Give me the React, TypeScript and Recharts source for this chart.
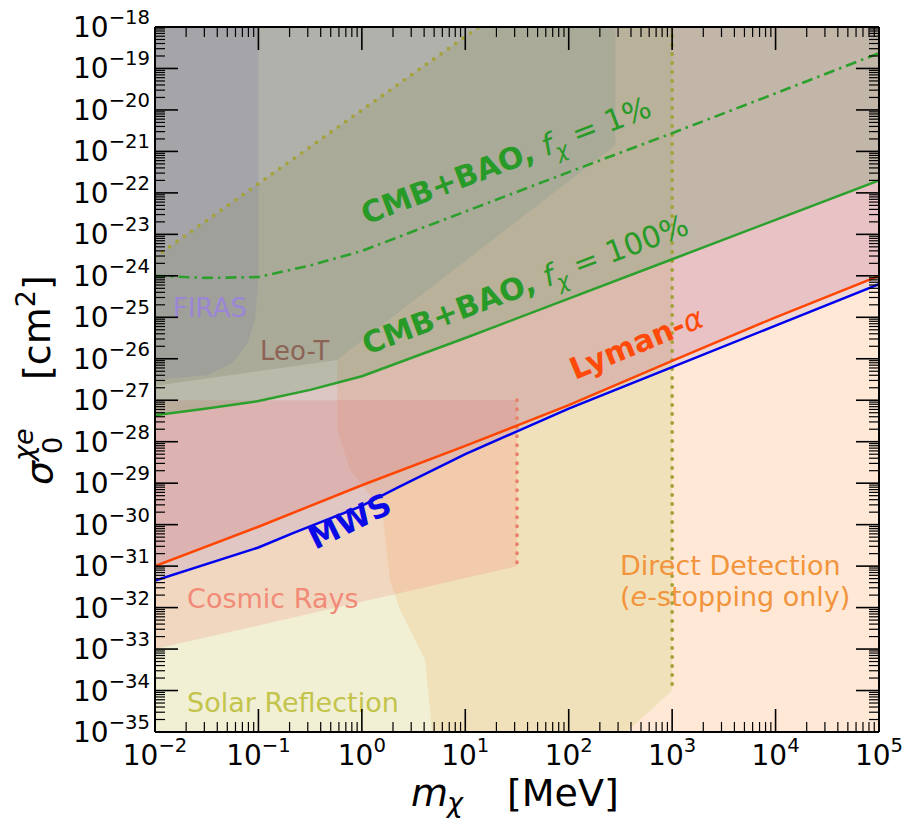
import React from 'react';
import { ComposedChart, Area, Line, XAxis, YAxis, ReferenceDot, Label } from 'recharts';

const FONT = '"DejaVu Sans", Verdana, sans-serif';
const W = 906;
const H = 818;

// all values are log10: x = log10(m_chi / MeV), y = log10(sigma_0 / cm^2)
const massDecades = [-2, -1, 0, 1, 2, 3, 4, 5];
const massLabels = ['−2', '−1', '0', '1', '2', '3', '4', '5'];
const sigmaDecades = [-35, -34, -33, -32, -31, -30, -29, -28, -27, -26, -25, -24, -23, -22, -21, -20, -19, -18];
const sigmaLabels = ['−35', '−34', '−33', '−32', '−31', '−30', '−29', '−28', '−27', '−26', '−25', '−24', '−23', '−22', '−21', '−20', '−19', '−18'];
const minorSteps = [2, 3, 4, 5, 6, 7, 8, 9];
const SIGMA_MAX = -18;

// solar reflection band (olive, dotted ceiling + 1 GeV edge)
const solarX = [-2, 1.13, 2.56, 3];
const solarLo = [-35, -35, -35, -34.0];
const solarHi = [-23.55, -18, -18, -18];

// direct detection (e-stopping only)
const ddX = [-0.24, -0.115, 0.08, 0.2, 0.27, 0.37, 0.61, 0.68, 2.45, 2.45, 5];
const ddLo = [-27.72, -28.68, -29.29, -29.72, -31.33, -32.05, -33.26, -35, -35, -35, -35];
const ddHi = [-26.03, -25.79, -25.41, -25.18, -25.05, -24.86, -24.39, -24.26, -20.85, -18, -18];

// cosmic rays
const crX = [-2, 1.5];
const crLo = [-33.0, -31.0];
const crHi = [-27, -27];

// Leo-T
const leoX = [-2, -0.24, 2.45];
const leoLo = [-26.65, -26.03, -20.85];

// FIRAS
const firasX = [-2, -1.5, -1.25, -1.1, -1.03, -1.0];
const firasLo = [-26.5, -26.4, -26.1, -25.6, -25.0, -24.0];

// Lyman-alpha
const lymanX = [-2, -1, 0, 1, 2, 3, 4, 5];
const lymanY = [-31.0, -30.05, -29.05, -28.1, -27.12, -26.05, -25.0, -24.0];

// Milky Way satellites
const mwsX = [-2, -1, -0.66, 0, 0.35, 1, 1.5, 2, 3, 4, 5];
const mwsY = [-31.35, -30.55, -30.2, -29.55, -29.1, -28.3, -27.75, -27.2, -26.2, -25.2, -24.2];

// CMB+BAO
const cmbX = [-2, -1.5, -1, -0.5, 0, 1, 2, 3, 4, 5];
const cmb100Y = [-27.36, -27.2, -27.02, -26.75, -26.42, -25.5, -24.55, -23.6, -22.65, -21.7];
const cmb1Y = [-24.0, -24.05, -24.03, -23.75, -23.4, -22.45, -21.5, -20.56, -19.6, -18.63];

// dotted edges
const solarEdgeX = [-2, 1.13];
const solarEdgeY = [-23.55, -18];
const gevEdgeX = [3, 3];
const gevEdgeY = [-18, -34.0];
const crEdgeX = [1.5, 1.5];
const crEdgeY = [-27, -31.0];

const range = (xs: number[], lo: number[], hi: number[]) => xs.map((x, i) => ({ x, r: [lo[i], hi[i]] }));
const toTop = (xs: number[], lo: number[]) => range(xs, lo, xs.map(() => SIGMA_MAX));
const pts = (xs: number[], ys: number[]) => xs.map((x, i) => ({ x, y: ys[i] }));

const massTicks = [
  ...massDecades,
  ...massDecades.slice(0, -1).flatMap((d) => minorSteps.map((k) => d + Math.log10(k))),
];
const sigmaTicks = [
  ...sigmaDecades,
  ...sigmaDecades.slice(0, -1).flatMap((d) => minorSteps.map((k) => d + Math.log10(k))),
];

const majorIndex = (list: number[], v: number) => list.findIndex((d) => Math.abs(d - v) < 1e-6);

type Part = { t: string; b?: boolean; i?: boolean; sub?: boolean };

const notes: { x: number; y: number; color: string; size: number; rot: number; parts: Part[] }[] = [
  { x: -1.826, y: -24.99, color: '#9b86d6', size: 26, rot: 0, parts: [{ t: 'FIRAS' }] },
  { x: -0.985, y: -26.03, color: '#8c6456', size: 26, rot: 0, parts: [{ t: 'Leo-T' }] },
  {
    x: 0.04, y: -22.77, color: '#279a27', size: 30, rot: 20.8,
    parts: [{ t: 'CMB+BAO, ', b: true }, { t: 'f', i: true }, { t: 'χ', i: true, sub: true }, { t: ' = 1%' }],
  },
  {
    x: 0.05, y: -25.91, color: '#279a27', size: 30, rot: 20.6,
    parts: [{ t: 'CMB+BAO, ', b: true }, { t: 'f', i: true }, { t: 'χ', i: true, sub: true }, { t: ' = 100%' }],
  },
  { x: 2.06, y: -26.51, color: '#ff4a0a', size: 30, rot: 22.5, parts: [{ t: 'Lyman-', b: true }, { t: 'α', i: true }] },
  { x: -0.45, y: -30.61, color: '#0a0ae6', size: 31, rot: 26, parts: [{ t: 'MWS', b: true }] },
  { x: -1.69, y: -32.01, color: '#f28a78', size: 27, rot: 0, parts: [{ t: 'Cosmic Rays' }] },
  { x: -1.69, y: -34.52, color: '#c3c44c', size: 27, rot: 0, parts: [{ t: 'Solar Reflection' }] },
  { x: 2.496, y: -31.21, color: '#f2943c', size: 27, rot: 0, parts: [{ t: 'Direct Detection' }] },
  { x: 2.496, y: -31.96, color: '#f2943c', size: 27, rot: 0, parts: [{ t: '(' }, { t: 'e', i: true }, { t: '-stopping only)' }] },
];

function Note({ viewBox, parts, color, size, rot }: any) {
  const cx = viewBox.x + viewBox.width / 2;
  const cy = viewBox.y + viewBox.height / 2;
  const shift = Math.round(size * 0.22);
  let prevSub = false;
  return (
    <g transform={`translate(${cx} ${cy}) rotate(${-rot})`}>
      <text x={0} y={0} fill={color} fontSize={size} fontFamily={FONT} style={{ whiteSpace: 'pre' }}>
        {parts.map((p: Part, i: number) => {
          const dy = p.sub && !prevSub ? shift : !p.sub && prevSub ? -shift : 0;
          prevSub = !!p.sub;
          return (
            <tspan
              key={i}
              dy={dy || undefined}
              fontWeight={p.b ? 'bold' : 'normal'}
              fontStyle={p.i ? 'italic' : 'normal'}
              fontSize={p.sub ? size * 0.7 : size}
            >
              {p.t}
            </tspan>
          );
        })}
      </text>
    </g>
  );
}

const MAJOR = 23;
const MINOR = 10;

function BottomTick({ x, y, payload }: any) {
  const k = majorIndex(massDecades, payload.value);
  const major = k >= 0;
  return (
    <g>
      <line x1={x} y1={y} x2={x} y2={y - (major ? MAJOR : MINOR)} stroke="#000" strokeWidth={major ? 1.6 : 1.2} />
      {major && (
        <text x={x} y={y + 33} textAnchor="middle" fontSize={28} fontFamily={FONT} fill="#000" style={{ whiteSpace: 'pre' }}>
          10<tspan dy={-13} fontSize={19.6}>{massLabels[k]}</tspan>
        </text>
      )}
    </g>
  );
}

function TopTick({ x, y, payload }: any) {
  const major = majorIndex(massDecades, payload.value) >= 0;
  return <line x1={x} y1={y} x2={x} y2={y + (major ? MAJOR : MINOR)} stroke="#000" strokeWidth={major ? 1.6 : 1.2} />;
}

function LeftTick({ x, y, payload }: any) {
  const k = majorIndex(sigmaDecades, payload.value);
  const major = k >= 0;
  return (
    <g>
      <line x1={x} y1={y} x2={x + (major ? MAJOR : MINOR)} y2={y} stroke="#000" strokeWidth={major ? 1.6 : 1.2} />
      {major && (
        <text x={x - 5} y={y + 10} textAnchor="end" fontSize={28} fontFamily={FONT} fill="#000" style={{ whiteSpace: 'pre' }}>
          10<tspan dy={-13} fontSize={19.6}>{sigmaLabels[k]}</tspan>
        </text>
      )}
    </g>
  );
}

function RightTick({ x, y, payload }: any) {
  const major = majorIndex(sigmaDecades, payload.value) >= 0;
  return <line x1={x} y1={y} x2={x - (major ? MAJOR : MINOR)} y2={y} stroke="#000" strokeWidth={major ? 1.6 : 1.2} />;
}

function XTitle({ viewBox }: any) {
  const x0 = viewBox.x;
  const y0 = viewBox.y + 74;
  return (
    <g fontFamily={FONT} fill="#000" style={{ whiteSpace: 'pre' }}>
      <text x={x0 + 256} y={y0} fontSize={38} fontStyle="italic">m</text>
      <text x={x0 + 292} y={y0 + 6} fontSize={27} fontStyle="italic">χ</text>
      <text x={x0 + 352} y={y0} fontSize={38}>[MeV]</text>
    </g>
  );
}

function YTitle({ viewBox }: any) {
  const gx = viewBox.x + 52;
  const gy = viewBox.y + 463;
  return (
    <g transform={`translate(${gx} ${gy}) rotate(-90)`} fontFamily={FONT} fill="#000" style={{ whiteSpace: 'pre' }}>
      <text x={5} y={0} fontSize={38} fontStyle="italic">σ</text>
      <text x={29} y={-19} fontSize={27} fontStyle="italic">χe</text>
      <text x={36} y={10} fontSize={27}>0</text>
      <text x={110} y={-2} fontSize={38}>
        [cm<tspan dy={-15} fontSize={27}>2</tspan><tspan dy={15} fontSize={38}>]</tspan>
      </text>
    </g>
  );
}

const AX = { xAxisId: 'b', yAxisId: 'l' };

export default function App() {
  return (
    <div style={{ position: 'absolute', left: 0, top: 0, width: W, height: H, background: '#fff' }}>
      <ComposedChart width={W} height={H} margin={{ top: 0, right: 0, bottom: 0, left: 0 }}>
        {/* filled exclusion regions */}
        <Area {...AX} data={range(ddX, ddLo, ddHi)} dataKey="r" type="linear" stroke="none" fill="#ff7f0e" fillOpacity={0.17} isAnimationActive={false} activeDot={false} />
        <Area {...AX} data={range(solarX, solarLo, solarHi)} dataKey="r" type="linear" stroke="none" fill="#d8d488" fillOpacity={0.35} isAnimationActive={false} activeDot={false} />
        <Area {...AX} data={range(crX, crLo, crHi)} dataKey="r" type="linear" stroke="none" fill="#f08070" fillOpacity={0.22} isAnimationActive={false} activeDot={false} />
        <Area {...AX} data={toTop(lymanX, lymanY)} dataKey="r" type="linear" stroke="none" fill="#d62728" fillOpacity={0.12} isAnimationActive={false} activeDot={false} />
        <Area {...AX} data={toTop(mwsX, mwsY)} dataKey="r" type="linear" stroke="none" fill="#0000ff" fillOpacity={0.07} isAnimationActive={false} activeDot={false} />
        <Area {...AX} data={toTop(cmbX, cmb100Y)} dataKey="r" type="linear" stroke="none" fill="#6a9a6a" fillOpacity={0.3} isAnimationActive={false} activeDot={false} />
        <Area {...AX} data={toTop(leoX, leoLo)} dataKey="r" type="linear" stroke="none" fill="#807a6a" fillOpacity={0.25} isAnimationActive={false} activeDot={false} />
        <Area {...AX} data={toTop(firasX, firasLo)} dataKey="r" type="linear" stroke="none" fill="#7878a5" fillOpacity={0.2} isAnimationActive={false} activeDot={false} />

        {/* dotted edges */}
        <Line {...AX} data={pts(solarEdgeX, solarEdgeY)} dataKey="y" type="linear" stroke="#a4a23a" strokeWidth={3.8} strokeDasharray="0 9" strokeLinecap="round" dot={false} activeDot={false} isAnimationActive={false} />
        <Line {...AX} data={pts(gevEdgeX, gevEdgeY)} dataKey="y" type="linear" stroke="#a4a23a" strokeWidth={3.8} strokeDasharray="0 9" strokeLinecap="round" dot={false} activeDot={false} isAnimationActive={false} />
        <Line {...AX} data={pts(crEdgeX, crEdgeY)} dataKey="y" type="linear" stroke="#e8806c" strokeWidth={3.8} strokeDasharray="0 9" strokeLinecap="round" dot={false} activeDot={false} isAnimationActive={false} />

        {/* bounds */}
        <Line {...AX} data={pts(cmbX, cmb1Y)} dataKey="y" type="linear" stroke="#2ca02c" strokeWidth={2.6} strokeDasharray="11 5 2.5 5" dot={false} activeDot={false} isAnimationActive={false} />
        <Line {...AX} data={pts(cmbX, cmb100Y)} dataKey="y" type="linear" stroke="#2ca02c" strokeWidth={2.5} dot={false} activeDot={false} isAnimationActive={false} />
        <Line {...AX} data={pts(mwsX, mwsY)} dataKey="y" type="linear" stroke="#0000ee" strokeWidth={2.5} dot={false} activeDot={false} isAnimationActive={false} />
        <Line {...AX} data={pts(lymanX, lymanY)} dataKey="y" type="linear" stroke="#ff4500" strokeWidth={2.5} dot={false} activeDot={false} isAnimationActive={false} />

        {notes.map((n, i) => (
          <ReferenceDot
            key={i}
            {...AX}
            x={n.x}
            y={n.y}
            r={0}
            fill="none"
            stroke="none"
            ifOverflow="visible"
            label={<Note parts={n.parts} color={n.color} size={n.size} rot={n.rot} />}
          />
        ))}

        <XAxis xAxisId="b" dataKey="x" type="number" domain={[-2, 5]} allowDataOverflow ticks={massTicks} interval={0}
          height={86} tickSize={0} tickMargin={0} axisLine={{ stroke: '#000', strokeWidth: 2 }} tickLine={false} tick={BottomTick}>
          <Label content={<XTitle />} />
        </XAxis>
        <XAxis xAxisId="t" orientation="top" dataKey="x" type="number" domain={[-2, 5]} allowDataOverflow ticks={massTicks} interval={0}
          height={27} tickSize={0} tickMargin={0} axisLine={{ stroke: '#000', strokeWidth: 2 }} tickLine={false} tick={TopTick} />
        <YAxis yAxisId="l" type="number" domain={[-35, -18]} allowDataOverflow ticks={sigmaTicks} interval={0}
          width={155} tickSize={0} tickMargin={0} axisLine={{ stroke: '#000', strokeWidth: 2 }} tickLine={false} tick={LeftTick}>
          <Label content={<YTitle />} />
        </YAxis>
        <YAxis yAxisId="r" orientation="right" type="number" domain={[-35, -18]} allowDataOverflow ticks={sigmaTicks} interval={0}
          width={27} tickSize={0} tickMargin={0} axisLine={{ stroke: '#000', strokeWidth: 2 }} tickLine={false} tick={RightTick} />
      </ComposedChart>
    </div>
  );
}
